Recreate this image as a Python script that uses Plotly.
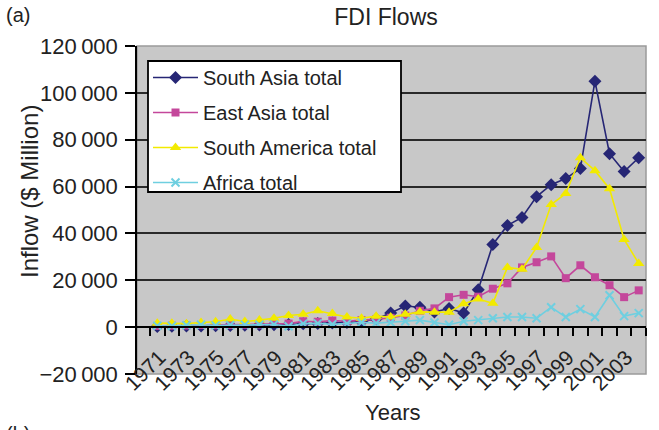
import plotly.graph_objects as go

years = list(range(1971, 2005))

south_asia = [300, 350, 450, 500, 600, 700, 800, 900, 1000, 1100, 1400, 1600, 1800, 2000,
              2300, 3500, 6000, 9000, 8500, 6500, 8000, 6000, 16000, 35300, 43400, 46800,
              55700, 60800, 63400, 67700, 105000, 74000, 66400, 72300]
east_asia = [500, 600, 700, 900, 800, 900, 1000, 1100, 1300, 1500, 2500, 2300, 2800, 2500,
             3000, 3300, 4000, 5000, 7000, 8000, 12800, 13800, 13000, 16400, 18700, 25500,
             27700, 30200, 20900, 26400, 21300, 17900, 12800, 15700]
south_america = [1700, 1700, 1500, 2000, 2300, 3500, 2400, 3000, 3800, 5000, 5500, 7000, 5800,
                 4300, 3800, 4700, 4300, 5500, 6500, 6400, 6400, 10000, 12000, 10200, 25500,
                 24700, 34000, 52300, 57000, 72300, 66800, 59100, 37400, 27200]
africa = [600, 500, 800, 1000, 700, 900, 1000, 1000, 1100, 400, 1500, 1600, 1200, 1500, 2000,
          1700, 2000, 2500, 3000, 2000, 1000, 2500, 3000, 3800, 4300, 4300, 3800, 8500, 4300,
          7700, 4300, 13600, 4700, 6000]

series_names = ["South Asia total", "East Asia total", "South America total", "Africa total"]
series_vals = [south_asia, east_asia, south_america, africa]
colors = ["#262675", "#c4479b", "#f2ea00", "#6fcfe0"]
symbols = ["diamond", "square", "triangle-up", "x-thin"]
msizes = [10, 8, 10, 8]

x_label_years = list(range(1971, 2004, 2))
y_tick_vals = [-20000, 0, 20000, 40000, 60000, 80000, 100000, 120000]
y_tick_text = ["\u221220\u2009000", "0", "20\u2009000", "40\u2009000", "60\u2009000",
               "80\u2009000", "100\u2009000", "120\u2009000"]

FONT = "Liberation Sans, Arial, sans-serif"
TXT = "#222222"

# plot area in pixels (for converting layout placements to paper fractions)
PL, PR, PT, PB = 137, 646, 46, 374
PW, PH = PR - PL, PB - PT


def px(x):
    return (x - PL) / PW


def py(y):
    return (PB - y) / PH


fig = go.Figure()
for i, (name, vals) in enumerate(zip(series_names, series_vals)):
    marker = dict(symbol=symbols[i], size=msizes[i], color=colors[i])
    if symbols[i] == "x-thin":
        marker["line"] = dict(color=colors[i], width=2)
    fig.add_trace(go.Scatter(
        x=years, y=vals, name=name, mode="lines+markers",
        line=dict(color=colors[i], width=1.6),
        marker=marker, legendgroup=name,
    ))

# invisible trace to host the zero-line axis with category ticks
fig.add_trace(go.Scatter(x=[years[0]], y=[None], xaxis="x2", showlegend=False,
                         hoverinfo="skip", mode="lines"))

xr = [1969.61, 2004.5]

fig.update_layout(
    width=659, height=430,
    margin=dict(l=PL, r=659 - PR, t=PT, b=430 - PB),
    paper_bgcolor="white",
    plot_bgcolor="#c8c8c8",
    font=dict(family=FONT, size=20, color=TXT),
    showlegend=True,
    title=dict(text="FDI Flows", x=386 / 659, y=1 - 17 / 430, xanchor="center",
               yanchor="middle", xref="container", automargin=False,
               font=dict(family=FONT, size=23, color=TXT)),
    legend=dict(x=px(148), y=py(58), xanchor="left", yanchor="top",
                bgcolor="rgba(0,0,0,0)", borderwidth=0,
                font=dict(family=FONT, size=20, color=TXT),
                traceorder="grouped", tracegroupgap=6, itemwidth=45),
    xaxis=dict(range=xr, anchor="free", position=34 / 328, automargin=False,
               tickmode="array", tickvals=[y + 0.15 for y in x_label_years],
               ticktext=[str(y) for y in x_label_years],
               tickangle=-45, ticks="", showline=False, showgrid=False, zeroline=False,
               tickfont=dict(family=FONT, size=21, color=TXT)),
    xaxis2=dict(range=xr, overlaying="x", anchor="free", position=1 / 7, automargin=False,
                tickmode="linear", tick0=1970.5, dtick=1, ticks="outside", ticklen=8,
                tickwidth=1.5, tickcolor="black", showticklabels=False,
                showline=True, linecolor="black", linewidth=1.5,
                showgrid=False, zeroline=False),
    yaxis=dict(range=[-20000, 120000], tickmode="array", tickvals=y_tick_vals,
               ticktext=y_tick_text, ticks="outside", ticklen=10, tickwidth=1.5,
               tickcolor="black", showline=True, linecolor="black", linewidth=1.5,
               showgrid=True, gridcolor="#2a2a2a", gridwidth=1.8, zeroline=False,
               automargin=False, ticklabelstandoff=3,
               tickfont=dict(family=FONT, size=22, color=TXT)),
    shapes=[
        dict(type="rect", xref="paper", yref="paper", x0=0, x1=1, y0=0, y1=1,
             line=dict(color="#9a9a9a", width=1.5), layer="below"),
        dict(type="rect", xref="paper", yref="paper", x0=px(148), x1=px(401),
             y0=py(192), y1=py(61), fillcolor="white",
             line=dict(color="black", width=1.8), layer="above"),
    ],
    annotations=[
        dict(text="Inflow ($ Million)", xref="paper", yref="paper", x=px(30),
             y=py(192), xanchor="center", yanchor="middle", textangle=-90,
             showarrow=False, font=dict(family=FONT, size=24, color=TXT)),
        dict(text="Years", xref="paper", yref="paper", x=px(392),
             y=py(412), xanchor="center", yanchor="middle", showarrow=False,
             font=dict(family=FONT, size=22, color=TXT)),
        dict(text="(a)", xref="paper", yref="paper", x=px(4),
             y=py(15), xanchor="left", yanchor="middle", showarrow=False,
             font=dict(family=FONT, size=20, color=TXT)),
        dict(text="(b)", xref="paper", yref="paper", x=px(4),
             y=py(421), xanchor="left", yanchor="top", showarrow=False,
             font=dict(family=FONT, size=20, color=TXT)),
    ],
)

fig.write_html("out.html", config={"displayModeBar": False},
               post_script="document.body.style.margin='0px';")
